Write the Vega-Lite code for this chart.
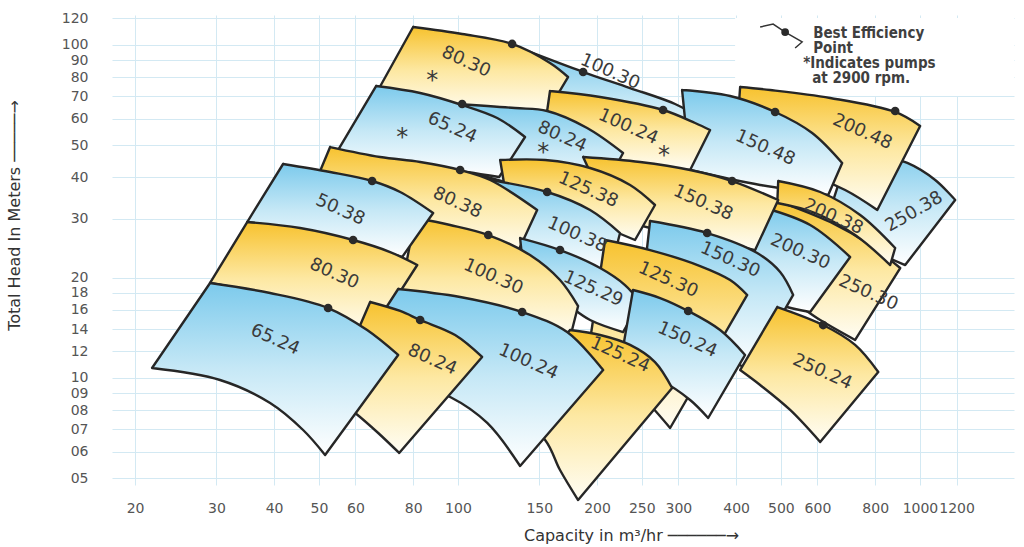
{
  "$schema": "https://vega.github.io/schema/vega-lite/v6.json",
  "width": 902,
  "height": 470,
  "autosize": {"type": "none"},
  "padding": {"left": 112, "top": 15, "right": 10, "bottom": 62},
  "background": "white",
  "config": {"view": {"stroke": null}, "font": "DejaVu Sans"},
  "datasets": {
    "box": [{"q": 398, "q2": 1598, "h": 120.4, "h2": 70.2}],
    "tiles": [
      {"t":"t01","c":"b","o":0,"q":706.3,"h":48.97},{"t":"t01","c":"b","o":1,"q":706.3,"h":48.97},{"t":"t01","c":"b","o":2,"q":938.9,"h":44.17},{"t":"t01","c":"b","o":3,"q":1079,"h":39.26},{"t":"t01","c":"b","o":4,"q":1192,"h":34.19},{"t":"t01","c":"b","o":5,"q":1192,"h":34.19},{"t":"t01","c":"b","o":6,"q":929,"h":21.81},{"t":"t01","c":"b","o":7,"q":929,"h":21.81},{"t":"t01","c":"b","o":8,"q":742.4,"h":25.05},{"t":"t01","c":"b","o":9,"q":623.4,"h":28.76},{"t":"t01","c":"b","o":10,"q":623.4,"h":28.76},{"t":"t01","c":"b","o":11,"q":706.3,"h":48.97},
      {"t":"t02","c":"y","o":0,"q":408.1,"h":74.69},{"t":"t02","c":"y","o":1,"q":408.1,"h":74.69},{"t":"t02","c":"y","o":2,"q":474.0,"h":73.16},{"t":"t02","c":"y","o":3,"q":639.3,"h":69.22},{"t":"t02","c":"y","o":4,"q":883.8,"h":62.84},{"t":"t02","c":"y","o":5,"q":1001,"h":57.03},{"t":"t02","c":"y","o":6,"q":1001,"h":57.03},{"t":"t02","c":"y","o":7,"q":808.5,"h":31.90},{"t":"t02","c":"y","o":8,"q":808.5,"h":31.90},{"t":"t02","c":"y","o":9,"q":688.7,"h":36.64},{"t":"t02","c":"y","o":10,"q":550.4,"h":41.49},{"t":"t02","c":"y","o":11,"q":398.1,"h":45.71},{"t":"t02","c":"y","o":12,"q":398.1,"h":45.71},{"t":"t02","c":"y","o":13,"q":408.1,"h":74.69},
      {"t":"t03","c":"b","o":0,"q":143.2,"h":95.16},{"t":"t03","c":"b","o":1,"q":143.2,"h":95.16},{"t":"t03","c":"b","o":2,"q":186.6,"h":82.86},{"t":"t03","c":"b","o":3,"q":235.8,"h":74.17},{"t":"t03","c":"b","o":4,"q":295.1,"h":66.41},{"t":"t03","c":"b","o":5,"q":334.3,"h":60.28},{"t":"t03","c":"b","o":6,"q":334.3,"h":60.28},{"t":"t03","c":"b","o":7,"q":302.6,"h":48.31},{"t":"t03","c":"b","o":8,"q":302.6,"h":48.31},{"t":"t03","c":"b","o":9,"q":224.3,"h":57.43},{"t":"t03","c":"b","o":10,"q":156.8,"h":68.27},{"t":"t03","c":"b","o":11,"q":156.8,"h":68.27},{"t":"t03","c":"b","o":12,"q":143.2,"h":95.16},
      {"t":"t04","c":"b","o":0,"q":305.6,"h":73.16},{"t":"t04","c":"b","o":1,"q":305.6,"h":73.16},{"t":"t04","c":"b","o":2,"q":388.3,"h":70.18},{"t":"t04","c":"b","o":3,"q":485.9,"h":62.84},{"t":"t04","c":"b","o":4,"q":584.4,"h":54.34},{"t":"t04","c":"b","o":5,"q":678.6,"h":44.17},{"t":"t04","c":"b","o":6,"q":678.6,"h":44.17},{"t":"t04","c":"b","o":7,"q":633.1,"h":35.39},{"t":"t04","c":"b","o":8,"q":633.1,"h":35.39},{"t":"t04","c":"b","o":9,"q":450.9,"h":37.93},{"t":"t04","c":"b","o":10,"q":318.1,"h":42.07},{"t":"t04","c":"b","o":11,"q":318.1,"h":42.07},{"t":"t04","c":"b","o":12,"q":305.6,"h":73.16},
      {"t":"t05","c":"y","o":0,"q":79.98,"h":113.1},{"t":"t05","c":"y","o":1,"q":79.98,"h":113.1},{"t":"t05","c":"y","o":2,"q":102.1,"h":107.8},{"t":"t05","c":"y","o":3,"q":131.0,"h":100.6},{"t":"t05","c":"y","o":4,"q":158.2,"h":88.18},{"t":"t05","c":"y","o":5,"q":173.1,"h":80.04},{"t":"t05","c":"y","o":6,"q":173.1,"h":80.04},{"t":"t05","c":"y","o":7,"q":156.0,"h":62.84},{"t":"t05","c":"y","o":8,"q":156.0,"h":62.84},{"t":"t05","c":"y","o":9,"q":123.4,"h":61.97},{"t":"t05","c":"y","o":10,"q":102.1,"h":63.71},{"t":"t05","c":"y","o":11,"q":82.83,"h":68.27},{"t":"t05","c":"y","o":12,"q":67.18,"h":73.16},{"t":"t05","c":"y","o":13,"q":67.18,"h":73.16},{"t":"t05","c":"y","o":14,"q":79.98,"h":113.1},
      {"t":"t06","c":"y","o":0,"q":158.2,"h":72.66},{"t":"t06","c":"y","o":1,"q":158.2,"h":72.66},{"t":"t06","c":"y","o":2,"q":203.1,"h":69.70},{"t":"t06","c":"y","o":3,"q":278.0,"h":63.71},{"t":"t06","c":"y","o":4,"q":326.1,"h":58.23},{"t":"t06","c":"y","o":5,"q":351.4,"h":55.48},{"t":"t06","c":"y","o":6,"q":351.4,"h":55.48},{"t":"t06","c":"y","o":7,"q":318.1,"h":42.07},{"t":"t06","c":"y","o":8,"q":318.1,"h":42.07},{"t":"t06","c":"y","o":9,"q":260.5,"h":42.66},{"t":"t06","c":"y","o":10,"q":203.1,"h":45.09},{"t":"t06","c":"y","o":11,"q":154.4,"h":57.43},{"t":"t06","c":"y","o":12,"q":154.4,"h":57.43},{"t":"t06","c":"y","o":13,"q":158.2,"h":72.66},
      {"t":"t07","c":"b","o":0,"q":98.59,"h":66.41},{"t":"t07","c":"b","o":1,"q":98.59,"h":66.41},{"t":"t07","c":"b","o":2,"q":132.9,"h":64.59},{"t":"t07","c":"b","o":3,"q":156.0,"h":63.27},{"t":"t07","c":"b","o":4,"q":190.4,"h":56.25},{"t":"t07","c":"b","o":5,"q":227.7,"h":47.32},{"t":"t07","c":"b","o":6,"q":227.7,"h":47.32},{"t":"t07","c":"b","o":7,"q":203.1,"h":35.39},{"t":"t07","c":"b","o":8,"q":203.1,"h":35.39},{"t":"t07","c":"b","o":9,"q":150.6,"h":36.64},{"t":"t07","c":"b","o":10,"q":111.7,"h":40.64},{"t":"t07","c":"b","o":11,"q":111.7,"h":40.64},{"t":"t07","c":"b","o":12,"q":98.59,"h":66.41},
      {"t":"t08","c":"b","o":0,"q":66.49,"h":75.21},{"t":"t08","c":"b","o":1,"q":66.49,"h":75.21},{"t":"t08","c":"b","o":2,"q":82.83,"h":71.66},{"t":"t08","c":"b","o":3,"q":102.1,"h":65.95},{"t":"t08","c":"b","o":4,"q":121.6,"h":60.28},{"t":"t08","c":"b","o":5,"q":139.7,"h":52.86},{"t":"t08","c":"b","o":6,"q":139.7,"h":52.86},{"t":"t08","c":"b","o":7,"q":122.8,"h":40.08},{"t":"t08","c":"b","o":8,"q":122.8,"h":40.08},{"t":"t08","c":"b","o":9,"q":91.51,"h":42.66},{"t":"t08","c":"b","o":10,"q":67.85,"h":45.09},{"t":"t08","c":"b","o":11,"q":54.20,"h":46.67},{"t":"t08","c":"b","o":12,"q":54.20,"h":46.67},{"t":"t08","c":"b","o":13,"q":66.49,"h":75.21},
      {"t":"t09","c":"y","o":0,"q":485.9,"h":34.19},{"t":"t09","c":"y","o":1,"q":485.9,"h":34.19},{"t":"t09","c":"y","o":2,"q":639.3,"h":29.36},{"t":"t09","c":"y","o":3,"q":780.4,"h":25.05},{"t":"t09","c":"y","o":4,"q":906.3,"h":21.36},{"t":"t09","c":"y","o":5,"q":906.3,"h":21.36},{"t":"t09","c":"y","o":6,"q":724.0,"h":12.99},{"t":"t09","c":"y","o":7,"q":724.0,"h":12.99},{"t":"t09","c":"y","o":8,"q":608.2,"h":14.91},{"t":"t09","c":"y","o":9,"q":523.7,"h":17.12},{"t":"t09","c":"y","o":10,"q":429.0,"h":19.66},{"t":"t09","c":"y","o":11,"q":429.0,"h":19.66},{"t":"t09","c":"y","o":12,"q":485.9,"h":34.19},
      {"t":"t10","c":"y","o":0,"q":493.4,"h":38.99},{"t":"t10","c":"y","o":1,"q":493.4,"h":38.99},{"t":"t10","c":"y","o":2,"q":608.2,"h":36.14},{"t":"t10","c":"y","o":3,"q":742.4,"h":30.82},{"t":"t10","c":"y","o":4,"q":883.8,"h":24.53},{"t":"t10","c":"y","o":5,"q":883.8,"h":24.53},{"t":"t10","c":"y","o":6,"q":862.2,"h":21.81},{"t":"t10","c":"y","o":7,"q":862.2,"h":21.81},{"t":"t10","c":"y","o":8,"q":724.0,"h":26.84},{"t":"t10","c":"y","o":9,"q":593.1,"h":31.25},{"t":"t10","c":"y","o":10,"q":491.1,"h":33.49},{"t":"t10","c":"y","o":11,"q":491.1,"h":33.49},{"t":"t10","c":"y","o":12,"q":493.4,"h":38.99},
      {"t":"t11","c":"b","o":0,"q":462.2,"h":32.35},{"t":"t11","c":"b","o":1,"q":462.2,"h":32.35},{"t":"t11","c":"b","o":2,"q":578.6,"h":28.76},{"t":"t11","c":"b","o":3,"q":706.3,"h":23.05},{"t":"t11","c":"b","o":4,"q":706.3,"h":23.05},{"t":"t11","c":"b","o":5,"q":578.6,"h":15.76},{"t":"t11","c":"b","o":6,"q":578.6,"h":15.76},{"t":"t11","c":"b","o":7,"q":498.2,"h":16.54},{"t":"t11","c":"b","o":8,"q":418.3,"h":18.35},{"t":"t11","c":"b","o":9,"q":418.3,"h":18.35},{"t":"t11","c":"b","o":10,"q":462.2,"h":32.35},
      {"t":"t12","c":"y","o":0,"q":186.6,"h":46.03},{"t":"t12","c":"y","o":1,"q":186.6,"h":46.03},{"t":"t12","c":"y","o":2,"q":247.9,"h":44.47},{"t":"t12","c":"y","o":3,"q":318.1,"h":42.07},{"t":"t12","c":"y","o":4,"q":392.2,"h":38.99},{"t":"t12","c":"y","o":5,"q":493.4,"h":34.19},{"t":"t12","c":"y","o":6,"q":493.4,"h":34.19},{"t":"t12","c":"y","o":7,"q":439.7,"h":24.19},{"t":"t12","c":"y","o":8,"q":439.7,"h":24.19},{"t":"t12","c":"y","o":9,"q":342.7,"h":26.28},{"t":"t12","c":"y","o":10,"q":260.5,"h":28.17},{"t":"t12","c":"y","o":11,"q":213.4,"h":30.82},{"t":"t12","c":"y","o":12,"q":213.4,"h":30.82},{"t":"t12","c":"y","o":13,"q":186.6,"h":46.03},
      {"t":"t13","c":"y","o":0,"q":123.4,"h":45.09},{"t":"t13","c":"y","o":1,"q":123.4,"h":45.09},{"t":"t13","c":"y","o":2,"q":154.4,"h":45.09},{"t":"t13","c":"y","o":3,"q":193.2,"h":42.66},{"t":"t13","c":"y","o":4,"q":235.8,"h":37.93},{"t":"t13","c":"y","o":5,"q":267.0,"h":33.03},{"t":"t13","c":"y","o":6,"q":267.0,"h":33.03},{"t":"t13","c":"y","o":7,"q":241.7,"h":25.93},{"t":"t13","c":"y","o":8,"q":241.7,"h":25.93},{"t":"t13","c":"y","o":9,"q":203.1,"h":28.76},{"t":"t13","c":"y","o":10,"q":166.3,"h":33.03},{"t":"t13","c":"y","o":11,"q":126.5,"h":36.64},{"t":"t13","c":"y","o":12,"q":126.5,"h":36.64},{"t":"t13","c":"y","o":13,"q":123.4,"h":45.09},
      {"t":"t14","c":"b","o":0,"q":117.4,"h":39.26},{"t":"t14","c":"b","o":1,"q":117.4,"h":39.26},{"t":"t14","c":"b","o":2,"q":156.0,"h":36.14},{"t":"t14","c":"b","o":3,"q":193.2,"h":31.90},{"t":"t14","c":"b","o":4,"q":224.3,"h":27.21},{"t":"t14","c":"b","o":5,"q":224.3,"h":27.21},{"t":"t14","c":"b","o":6,"q":213.4,"h":20.78},{"t":"t14","c":"b","o":7,"q":213.4,"h":20.78},{"t":"t14","c":"b","o":8,"q":170.5,"h":22.89},{"t":"t14","c":"b","o":9,"q":143.2,"h":25.05},{"t":"t14","c":"b","o":10,"q":111.7,"h":27.78},{"t":"t14","c":"b","o":11,"q":111.7,"h":27.78},{"t":"t14","c":"b","o":12,"q":117.4,"h":39.26},
      {"t":"t15","c":"y","o":0,"q":52.88,"h":49.31},{"t":"t15","c":"y","o":1,"q":52.88,"h":49.31},{"t":"t15","c":"y","o":2,"q":67.85,"h":46.03},{"t":"t15","c":"y","o":3,"q":82.83,"h":44.47},{"t":"t15","c":"y","o":4,"q":101.1,"h":42.07},{"t":"t15","c":"y","o":5,"q":117.4,"h":39.26},{"t":"t15","c":"y","o":6,"q":148.4,"h":31.90},{"t":"t15","c":"y","o":7,"q":148.4,"h":31.90},{"t":"t15","c":"y","o":8,"q":134.4,"h":23.69},{"t":"t15","c":"y","o":9,"q":134.4,"h":23.69},{"t":"t15","c":"y","o":10,"q":106.3,"h":25.93},{"t":"t15","c":"y","o":11,"q":82.83,"h":28.76},{"t":"t15","c":"y","o":12,"q":47.86,"h":35.39},{"t":"t15","c":"y","o":13,"q":47.86,"h":35.39},{"t":"t15","c":"y","o":14,"q":52.88,"h":49.31},
      {"t":"t16","c":"b","o":0,"q":260.5,"h":29.56},{"t":"t16","c":"b","o":1,"q":260.5,"h":29.56},{"t":"t16","c":"b","o":2,"q":346.3,"h":27.21},{"t":"t16","c":"b","o":3,"q":444.4,"h":23.69},{"t":"t16","c":"b","o":4,"q":498.2,"h":20.78},{"t":"t16","c":"b","o":5,"q":531.6,"h":17.73},{"t":"t16","c":"b","o":6,"q":531.6,"h":17.73},{"t":"t16","c":"b","o":7,"q":429.0,"h":10.55},{"t":"t16","c":"b","o":8,"q":429.0,"h":10.55},{"t":"t16","c":"b","o":9,"q":334.3,"h":12.55},{"t":"t16","c":"b","o":10,"q":247.9,"h":15.98},{"t":"t16","c":"b","o":11,"q":247.9,"h":15.98},{"t":"t16","c":"b","o":12,"q":260.5,"h":29.56},
      {"t":"t17","c":"y","o":0,"q":208.2,"h":25.93},{"t":"t17","c":"y","o":1,"q":208.2,"h":25.93},{"t":"t17","c":"y","o":2,"q":260.5,"h":24.19},{"t":"t17","c":"y","o":3,"q":334.3,"h":21.66},{"t":"t17","c":"y","o":4,"q":388.3,"h":19.66},{"t":"t17","c":"y","o":5,"q":422.8,"h":17.73},{"t":"t17","c":"y","o":6,"q":422.8,"h":17.73},{"t":"t17","c":"y","o":7,"q":287.9,"h":7.066},{"t":"t17","c":"y","o":8,"q":287.9,"h":7.066},{"t":"t17","c":"y","o":9,"q":260.5,"h":8.285},{"t":"t17","c":"y","o":10,"q":229.9,"h":9.848},{"t":"t17","c":"y","o":11,"q":193.2,"h":12.99},{"t":"t17","c":"y","o":12,"q":193.2,"h":12.99},{"t":"t17","c":"y","o":13,"q":208.2,"h":25.93},
      {"t":"t18","c":"b","o":0,"q":136.3,"h":26.28},{"t":"t18","c":"b","o":1,"q":136.3,"h":26.28},{"t":"t18","c":"b","o":2,"q":166.3,"h":24.19},{"t":"t18","c":"b","o":3,"q":203.1,"h":21.36},{"t":"t18","c":"b","o":4,"q":229.9,"h":18.99},{"t":"t18","c":"b","o":5,"q":247.9,"h":16.89},{"t":"t18","c":"b","o":6,"q":247.9,"h":16.89},{"t":"t18","c":"b","o":7,"q":227.7,"h":13.72},{"t":"t18","c":"b","o":8,"q":227.7,"h":13.72},{"t":"t18","c":"b","o":9,"q":193.2,"h":14.91},{"t":"t18","c":"b","o":10,"q":166.3,"h":17.12},{"t":"t18","c":"b","o":11,"q":139.7,"h":18.99},{"t":"t18","c":"b","o":12,"q":139.7,"h":18.99},{"t":"t18","c":"b","o":13,"q":136.3,"h":26.28},
      {"t":"t19","c":"y","o":0,"q":80.77,"h":30.18},{"t":"t19","c":"y","o":1,"q":80.77,"h":30.18},{"t":"t19","c":"y","o":2,"q":96.19,"h":28.76},{"t":"t19","c":"y","o":3,"q":116.3,"h":26.84},{"t":"t19","c":"y","o":4,"q":143.2,"h":23.37},{"t":"t19","c":"y","o":5,"q":166.3,"h":19.66},{"t":"t19","c":"y","o":6,"q":182.0,"h":16.42},{"t":"t19","c":"y","o":7,"q":182.0,"h":16.42},{"t":"t19","c":"y","o":8,"q":174.8,"h":13.16},{"t":"t19","c":"y","o":9,"q":174.8,"h":13.16},{"t":"t19","c":"y","o":10,"q":136.3,"h":14.91},{"t":"t19","c":"y","o":11,"q":101.1,"h":16.54},{"t":"t19","c":"y","o":12,"q":74.97,"h":17.73},{"t":"t19","c":"y","o":13,"q":74.97,"h":17.73},{"t":"t19","c":"y","o":14,"q":80.77,"h":30.18},
      {"t":"t20","c":"b","o":0,"q":41.83,"h":43.86},{"t":"t20","c":"b","o":1,"q":41.83,"h":43.86},{"t":"t20","c":"b","o":2,"q":52.88,"h":41.49},{"t":"t20","c":"b","o":3,"q":65.20,"h":38.99},{"t":"t20","c":"b","o":4,"q":74.97,"h":36.14},{"t":"t20","c":"b","o":5,"q":88.37,"h":31.25},{"t":"t20","c":"b","o":6,"q":88.37,"h":31.25},{"t":"t20","c":"b","o":7,"q":75.72,"h":23.05},{"t":"t20","c":"b","o":8,"q":75.72,"h":23.05},{"t":"t20","c":"b","o":9,"q":61.41,"h":25.05},{"t":"t20","c":"b","o":10,"q":45.53,"h":27.78},{"t":"t20","c":"b","o":11,"q":34.98,"h":29.36},{"t":"t20","c":"b","o":12,"q":34.98,"h":29.36},{"t":"t20","c":"b","o":13,"q":41.83,"h":43.86},
      {"t":"t21","c":"y","o":0,"q":34.98,"h":29.36},{"t":"t21","c":"y","o":1,"q":34.98,"h":29.36},{"t":"t21","c":"y","o":2,"q":45.53,"h":28.17},{"t":"t21","c":"y","o":3,"q":59.30,"h":25.93},{"t":"t21","c":"y","o":4,"q":71.32,"h":23.86},{"t":"t21","c":"y","o":5,"q":81.64,"h":21.81},{"t":"t21","c":"y","o":6,"q":81.64,"h":21.81},{"t":"t21","c":"y","o":7,"q":65.20,"h":13.44},{"t":"t21","c":"y","o":8,"q":65.20,"h":13.44},{"t":"t21","c":"y","o":9,"q":52.88,"h":15.76},{"t":"t21","c":"y","o":10,"q":39.21,"h":17.73},{"t":"t21","c":"y","o":11,"q":29.07,"h":19.26},{"t":"t21","c":"y","o":12,"q":29.07,"h":19.26},{"t":"t21","c":"y","o":13,"q":34.98,"h":29.36},
      {"t":"t22","c":"y","o":0,"q":491.1,"h":16.31},{"t":"t22","c":"y","o":1,"q":491.1,"h":16.31},{"t":"t22","c":"y","o":2,"q":617.3,"h":14.40},{"t":"t22","c":"y","o":3,"q":724.0,"h":12.55},{"t":"t22","c":"y","o":4,"q":812.4,"h":10.41},{"t":"t22","c":"y","o":5,"q":812.4,"h":10.41},{"t":"t22","c":"y","o":6,"q":608.2,"h":6.414},{"t":"t22","c":"y","o":7,"q":608.2,"h":6.414},{"t":"t22","c":"y","o":8,"q":523.7,"h":8.003},{"t":"t22","c":"y","o":9,"q":450.9,"h":9.513},{"t":"t22","c":"y","o":10,"q":408.1,"h":10.55},{"t":"t22","c":"y","o":11,"q":408.1,"h":10.55},{"t":"t22","c":"y","o":12,"q":491.1,"h":16.31},
      {"t":"t23","c":"b","o":0,"q":239.3,"h":18.35},{"t":"t23","c":"b","o":1,"q":239.3,"h":18.35},{"t":"t23","c":"b","o":2,"q":273.9,"h":17.36},{"t":"t23","c":"b","o":3,"q":315.0,"h":15.87},{"t":"t23","c":"b","o":4,"q":369.4,"h":13.91},{"t":"t23","c":"b","o":5,"q":418.3,"h":11.71},{"t":"t23","c":"b","o":6,"q":418.3,"h":11.71},{"t":"t23","c":"b","o":7,"q":348.0,"h":7.572},{"t":"t23","c":"b","o":8,"q":348.0,"h":7.572},{"t":"t23","c":"b","o":9,"q":318.1,"h":8.576},{"t":"t23","c":"b","o":10,"q":273.9,"h":9.848},{"t":"t23","c":"b","o":11,"q":224.3,"h":10.93},{"t":"t23","c":"b","o":12,"q":224.3,"h":10.93},{"t":"t23","c":"b","o":13,"q":239.3,"h":18.35},
      {"t":"t24","c":"y","o":0,"q":174.8,"h":13.91},{"t":"t24","c":"y","o":1,"q":174.8,"h":13.91},{"t":"t24","c":"y","o":2,"q":203.1,"h":13.44},{"t":"t24","c":"y","o":3,"q":235.8,"h":12.55},{"t":"t24","c":"y","o":4,"q":267.0,"h":11.15},{"t":"t24","c":"y","o":5,"q":290.8,"h":9.317},{"t":"t24","c":"y","o":6,"q":290.8,"h":9.317},{"t":"t24","c":"y","o":7,"q":182.0,"h":4.293},{"t":"t24","c":"y","o":8,"q":182.0,"h":4.293},{"t":"t24","c":"y","o":9,"q":166.3,"h":5.284},{"t":"t24","c":"y","o":10,"q":154.4,"h":6.503},{"t":"t24","c":"y","o":11,"q":123.4,"h":8.576},{"t":"t24","c":"y","o":12,"q":123.4,"h":8.576},{"t":"t24","c":"y","o":13,"q":174.8,"h":13.91},
      {"t":"t25","c":"b","o":0,"q":74.23,"h":18.48},{"t":"t25","c":"b","o":1,"q":74.23,"h":18.48},{"t":"t25","c":"b","o":2,"q":101.1,"h":17.48},{"t":"t25","c":"b","o":3,"q":137.7,"h":15.76},{"t":"t25","c":"b","o":4,"q":172.3,"h":13.72},{"t":"t25","c":"b","o":5,"q":206.2,"h":10.55},{"t":"t25","c":"b","o":6,"q":206.2,"h":10.55},{"t":"t25","c":"b","o":7,"q":136.3,"h":5.433},{"t":"t25","c":"b","o":8,"q":136.3,"h":5.433},{"t":"t25","c":"b","o":9,"q":115.7,"h":7.315},{"t":"t25","c":"b","o":10,"q":96.19,"h":8.755},{"t":"t25","c":"b","o":11,"q":74.97,"h":9.848},{"t":"t25","c":"b","o":12,"q":56.41,"h":10.26},{"t":"t25","c":"b","o":13,"q":56.41,"h":10.26},{"t":"t25","c":"b","o":14,"q":74.23,"h":18.48},
      {"t":"t26","c":"y","o":0,"q":64.55,"h":16.89},{"t":"t26","c":"y","o":1,"q":64.55,"h":16.89},{"t":"t26","c":"y","o":2,"q":74.97,"h":15.87},{"t":"t26","c":"y","o":3,"q":82.83,"h":14.91},{"t":"t26","c":"y","o":4,"q":98.6,"h":13.44},{"t":"t26","c":"y","o":5,"q":112.8,"h":11.55},{"t":"t26","c":"y","o":6,"q":112.8,"h":11.55},{"t":"t26","c":"y","o":7,"q":74.6,"h":5.945},{"t":"t26","c":"y","o":8,"q":74.6,"h":5.945},{"t":"t26","c":"y","o":9,"q":67.2,"h":6.826},{"t":"t26","c":"y","o":10,"q":59.9,"h":7.839},{"t":"t26","c":"y","o":11,"q":52.88,"h":8.878},{"t":"t26","c":"y","o":12,"q":52.88,"h":8.878},{"t":"t26","c":"y","o":13,"q":64.55,"h":16.89},
      {"t":"t27","c":"b","o":0,"q":29.07,"h":19.26},{"t":"t27","c":"b","o":1,"q":29.07,"h":19.26},{"t":"t27","c":"b","o":2,"q":39.21,"h":17.97},{"t":"t27","c":"b","o":3,"q":52.35,"h":16.2},{"t":"t27","c":"b","o":4,"q":63.59,"h":13.91},{"t":"t27","c":"b","o":5,"q":74.23,"h":11.71},{"t":"t27","c":"b","o":6,"q":74.23,"h":11.71},{"t":"t27","c":"b","o":7,"q":51.57,"h":5.863},{"t":"t27","c":"b","o":8,"q":51.57,"h":5.863},{"t":"t27","c":"b","o":9,"q":46.22,"h":6.969},{"t":"t27","c":"b","o":10,"q":39.21,"h":8.4},{"t":"t27","c":"b","o":11,"q":30.55,"h":9.848},{"t":"t27","c":"b","o":12,"q":21.77,"h":10.7},{"t":"t27","c":"b","o":13,"q":21.77,"h":10.7},{"t":"t27","c":"b","o":14,"q":29.07,"h":19.26}
    ],
    "labels": [
      {"label": "80.30", "q": 104.1, "h": 88.80},
      {"label": "100.30", "q": 213.4, "h": 82.86},
      {"label": "65.24", "q": 97.15, "h": 56.25},
      {"label": "80.24", "q": 168.0, "h": 52.86},
      {"label": "100.24", "q": 233.5, "h": 56.64},
      {"label": "150.48", "q": 462.2, "h": 48.97},
      {"label": "200.48", "q": 749.8, "h": 54.72},
      {"label": "50.38", "q": 55.58, "h": 31.90},
      {"label": "80.38", "q": 99.65, "h": 33.49},
      {"label": "125.38", "q": 191.3, "h": 36.64},
      {"label": "100.38", "q": 181.1, "h": 26.84},
      {"label": "150.38", "q": 339.3, "h": 33.49},
      {"label": "200.38", "q": 648.9, "h": 30.39},
      {"label": "80.30", "q": 53.94, "h": 20.50},
      {"label": "100.30", "q": 119.2, "h": 20.07},
      {"label": "125.29", "q": 196.1, "h": 18.47},
      {"label": "125.30", "q": 285.1, "h": 19.66},
      {"label": "150.30", "q": 388.3, "h": 22.58},
      {"label": "200.30", "q": 550.4, "h": 23.86},
      {"label": "250.30", "q": 772.8, "h": 17.97},
      {"label": "65.24", "q": 40.19, "h": 12.99},
      {"label": "80.24", "q": 87.93, "h": 11.31},
      {"label": "100.24", "q": 141.9, "h": 11.15},
      {"label": "125.24", "q": 224.3, "h": 11.71},
      {"label": "150.24", "q": 313.5, "h": 12.99},
      {"label": "250.24", "q": 614.3, "h": 10.41}
    ],
    "labelsUp": [
      {"label": "250.38", "q": 971.7, "h": 31.46}
    ],
    "stars": [
      {"q": 87.93, "h": 82.29},
      {"q": 75.72, "h": 55.48},
      {"q": 152.9, "h": 50.0},
      {"q": 279.4, "h": 48.97}
    ],
    "dots": [
      {"q": 131.0, "h": 100.6}, {"q": 186.6, "h": 82.86}, {"q": 102.1, "h": 66.41}, {"q": 278.0, "h": 63.71},
      {"q": 485.9, "h": 62.84}, {"q": 883.8, "h": 63.27}, {"q": 65.20, "h": 38.99}, {"q": 101.1, "h": 42.07},
      {"q": 156.0, "h": 36.14}, {"q": 392.2, "h": 38.99}, {"q": 59.30, "h": 25.93}, {"q": 116.3, "h": 26.84},
      {"q": 166.3, "h": 24.19}, {"q": 346.3, "h": 27.21}, {"q": 52.35, "h": 16.2}, {"q": 82.83, "h": 14.91},
      {"q": 137.7, "h": 15.76}, {"q": 315.0, "h": 15.87}, {"q": 617.3, "h": 14.40}
    ],
    "legendText": [
      {"txt": "Best Efficiency", "q": 587.3, "h": 104.8},
      {"txt": "Point", "q": 587.3, "h": 94.45},
      {"txt": "*Indicates pumps", "q": 558.7, "h": 85.15},
      {"txt": "at 2900 rpm.", "q": 584.4, "h": 76.8}
    ],
    "legendLine": [
      {"o": 0, "q": 450.9, "h": 113.1},
      {"o": 1, "q": 481.1, "h": 115.4},
      {"o": 2, "q": 510.7, "h": 109.2},
      {"o": 3, "q": 555.9, "h": 102.0},
      {"o": 4, "q": 536.8, "h": 97.8}
    ]
  },
  "layer": [
    {
      "data": {"name": "box"},
      "mark": {"type": "rect", "fill": "white"},
      "encoding": {
        "x": {
          "field": "q", "type": "quantitative",
          "scale": {"type": "log", "domain": [17.83, 1598], "nice": false, "zero": false},
          "axis": {
            "values": [20, 30, 40, 50, 60, 80, 100, 150, 200, 250, 300, 400, 500, 600, 800, 1000, 1200],
            "labelExpr": "'' + datum.value",
            "domain": false, "ticks": false, "grid": true, "gridColor": "#d3e9f3", "gridWidth": 1,
            "labelFontSize": 14, "labelColor": "#555", "labelPadding": 16, "labelOverlap": false, "labelFlush": false,
            "title": "Capacity in m³/hr ──────→", "titleFontSize": 16, "titleFontWeight": "normal", "titleColor": "#333",
            "titleX": 519, "titleY": 42
          }
        },
        "x2": {"field": "q2"},
        "y": {
          "field": "h", "type": "quantitative",
          "scale": {"type": "log", "domain": [4.764, 122.9], "nice": false, "zero": false},
          "axis": {
            "values": [5, 6, 7, 8, 9, 10, 12, 14, 16, 18, 20, 30, 40, 50, 60, 70, 80, 90, 100, 120],
            "labelExpr": "datum.value < 10 ? '0' + datum.value : '' + datum.value",
            "domain": false, "ticks": false, "grid": true, "gridColor": "#d3e9f3", "gridWidth": 1,
            "labelFontSize": 14, "labelColor": "#555", "labelPadding": 24, "labelOverlap": false, "labelFlush": false,
            "title": "Total Head In Meters ─────→", "titleFontSize": 16, "titleFontWeight": "normal", "titleColor": "#333",
            "titleX": -90, "titleY": 200
          }
        },
        "y2": {"field": "h2"}
      }
    },
    {
      "data": {"name": "tiles"},
      "mark": {"type": "line", "interpolate": "catmull-rom", "stroke": "#262626", "strokeWidth": 2.4, "strokeJoin": "round", "strokeCap": "round"},
      "encoding": {
        "x": {"field": "q", "type": "quantitative"},
        "y": {"field": "h", "type": "quantitative"},
        "detail": {"field": "t"},
        "order": {"field": "o"},
        "fill": {
          "condition": {"test": "datum.c === 'y'", "value": {"gradient": "linear", "x1": 0, "y1": 0, "x2": 0, "y2": 1, "stops": [{"offset": 0, "color": "#f7c22e"}, {"offset": 0.5, "color": "#fde8a2"}, {"offset": 1, "color": "#fffdf4"}]}},
          "value": {"gradient": "linear", "x1": 0, "y1": 0, "x2": 0, "y2": 1, "stops": [{"offset": 0, "color": "#7ccaec"}, {"offset": 0.5, "color": "#c6e8f6"}, {"offset": 1, "color": "#ffffff"}]}
        }
      }
    },
    {
      "data": {"name": "dots"},
      "mark": {"type": "circle", "size": 75, "color": "#2a2a2a", "opacity": 1},
      "encoding": {
        "x": {"field": "q", "type": "quantitative"},
        "y": {"field": "h", "type": "quantitative"}
      }
    },
    {
      "data": {"name": "labels"},
      "mark": {"type": "text", "angle": 24, "fontSize": 18, "color": "#3a3a3a", "font": "DejaVu Sans"},
      "encoding": {
        "x": {"field": "q", "type": "quantitative"},
        "y": {"field": "h", "type": "quantitative"},
        "text": {"field": "label"}
      }
    },
    {
      "data": {"name": "labelsUp"},
      "mark": {"type": "text", "angle": -30, "fontSize": 18, "color": "#3a3a3a", "font": "DejaVu Sans"},
      "encoding": {
        "x": {"field": "q", "type": "quantitative"},
        "y": {"field": "h", "type": "quantitative"},
        "text": {"field": "label"}
      }
    },
    {
      "data": {"name": "stars"},
      "mark": {"type": "text", "text": "*", "fontSize": 24, "dy": 8, "color": "#3a3a3a", "font": "DejaVu Sans"},
      "encoding": {
        "x": {"field": "q", "type": "quantitative"},
        "y": {"field": "h", "type": "quantitative"}
      }
    },
    {
      "data": {"name": "legendLine"},
      "mark": {"type": "line", "stroke": "#333", "strokeWidth": 1.5},
      "encoding": {
        "x": {"field": "q", "type": "quantitative"},
        "y": {"field": "h", "type": "quantitative"},
        "order": {"field": "o"}
      }
    },
    {
      "data": {"values": [{"q": 510.7, "h": 109.2}]},
      "mark": {"type": "circle", "size": 60, "color": "#2a2a2a", "opacity": 1},
      "encoding": {
        "x": {"field": "q", "type": "quantitative"},
        "y": {"field": "h", "type": "quantitative"}
      }
    },
    {
      "data": {"name": "legendText"},
      "mark": {"type": "text", "align": "left", "baseline": "alphabetic", "fontSize": 15, "font": "DejaVu Sans Condensed", "fontWeight": "bold", "color": "#3f3f3f"},
      "encoding": {
        "x": {"field": "q", "type": "quantitative"},
        "y": {"field": "h", "type": "quantitative"},
        "text": {"field": "txt"}
      }
    }
  ]
}
